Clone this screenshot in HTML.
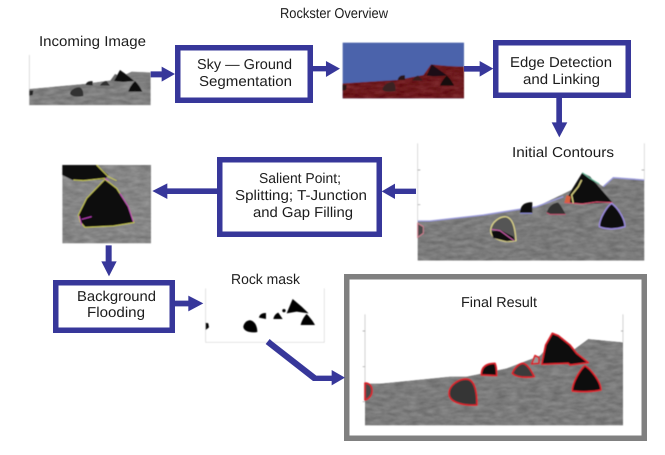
<!DOCTYPE html>
<html><head><meta charset="utf-8"><style>
html,body{margin:0;padding:0;background:#fff}
svg{display:block}
text{font-family:"Liberation Sans",sans-serif;font-size:14.3px;fill:#1c1c1c;text-rendering:geometricPrecision}
.b{fill:#fff;stroke:#37379a;stroke-width:5.5}
.a{fill:#37379a}
</style></head><body>
<svg width="665" height="455" viewBox="0 0 665 455" xmlns="http://www.w3.org/2000/svg">
<defs>
<filter id="t" x="0" y="0" width="100%" height="100%" color-interpolation-filters="sRGB">
<feTurbulence type="fractalNoise" baseFrequency=".03 .09" numOctaves="3" seed="4" result="n"/>
<feColorMatrix in="n" type="matrix" values="1 0 0 0 0 1 0 0 0 0 1 0 0 0 0 0 0 0 0 1" result="g"/>
<feComposite in="SourceGraphic" in2="g" operator="arithmetic" k1="0" k2="1" k3=".2" k4="-.1" result="c"/>
<feComposite in="c" in2="SourceAlpha" operator="in"/>
</filter>
<filter id="s" x="-5%" y="-5%" width="110%" height="110%"><feGaussianBlur stdDeviation="1.3"/></filter>
</defs>
<rect width="665" height="455" fill="#fff"/>

<!-- Incoming image -->
<g transform="scale(.3333)"><g filter="url(#s)">
<path d="M88 165V315H452" fill="none" stroke="#ccc" stroke-width="2"/>
<polygon points="88,267 250,252 340,240 395,215 452,217 452,315 88,315" fill="#7f7f7f" filter="url(#t)"/>
<polygon points="330,243 345,222 400,243" fill="#6a6a6a"/>
<polygon points="88,272 100,272 98,285 88,287" fill="#222"/>
<path d="M210 280C212 268 230 260 240 262C250 268 250 280 250 288C235 292 212 290 210 280Z" fill="#333"/>
<path d="M257 255C258 247 268 242 278 244V256Z" fill="#222"/>
<path d="M300 257C303 249 312 243 320 243L330 257Z" fill="#333"/>
<polygon points="342,243 360,210 385,228 403,243 370,246" fill="#111"/>
<path d="M385 275C388 262 398 250 405 243C415 252 423 265 427 275Z" fill="#111"/>
</g></g>

<!-- Sky/ground image -->
<g transform="translate(330,30) scale(.3333)"><g filter="url(#s)">
<rect x="38" y="38" width="364" height="167" fill="#4b63ab"/>
<polygon points="38,160 200,150 280,135 303,103 355,108 402,110 402,205 38,205" fill="#6e1a1e" filter="url(#t)"/>
<polygon points="38,165 50,165 48,180 38,182" fill="#2a1518"/>
<path d="M157 178C160 165 175 155 190 156C197 165 197 175 197 183C180 186 160 186 157 178Z" fill="#3a2224"/>
<path d="M203 150C205 140 212 135 225 136V150Z" fill="#2a1518"/>
<path d="M247 152C250 145 258 137 265 137L278 152Z" fill="#3a1a1c"/>
<polygon points="290,137 305,103 352,137 310,139" fill="#1e1012"/>
<path d="M330 167C335 155 342 145 350 137C360 145 368 158 372 167Z" fill="#120a0a"/>
</g></g>

<!-- Contour image -->
<g transform="translate(330,30) scale(.3333)"><g filter="url(#s)">
<path d="M263 340V573M943 340V450" stroke="#ccc" stroke-width="2" fill="none"/>
<path d="M263 420h8M263 524h8M943 420h-8" stroke="#999" stroke-width="2"/>
<polygon points="263,573 300,573 460,555 620,530 745,470 760,430 820,470 850,443 943,450 943,692 263,692" fill="#7b7b7b" filter="url(#t)"/>
<path d="M263,573 300,573 460,555 620,530 700,500M820,470 850,443 943,450" fill="none" stroke="#9c9cdc" stroke-width="4"/>
<polygon points="263,580 280,590 280,610 263,622" fill="#4a4a4a" stroke="#d08090" stroke-width="3"/>
<path d="M482 600C485 575 510 560 525 560C548 562 555 590 558 632C530 638 482 632 482 600Z" fill="#555" stroke="#d8d088" stroke-width="4"/>
<polygon points="484,605 510,600 550,620 555,632 530,634 490,624" fill="#0c0c0c"/>
<path d="M484 598 510 602 535 620 552 632" fill="none" stroke="#d060b0" stroke-width="3"/>
<path d="M570 550C570 530 580 516 607 517V550Z" fill="#111"/>
<path d="M570 550H607" stroke="#8f8fe0" stroke-width="3"/>
<path d="M650 548C655 530 670 518 685 518C695 530 702 543 707 553H660Z" fill="#333"/>
<path d="M650 548 660 553H707" fill="none" stroke="#c05070" stroke-width="3"/>
<polygon points="703,518 725,480 757,428 780,440 815,480 848,518 800,520 750,522" fill="#0c0c0c"/>
<path d="M703 518 757 522 800 516 848 518" fill="none" stroke="#d85070" stroke-width="3"/>
<path d="M757 428 780 445 808 462" fill="none" stroke="#70c0a0" stroke-width="3"/>
<path d="M730 520 725 495 745 470 755 450" fill="none" stroke="#d8d080" stroke-width="4"/>
<polygon points="703,518 710,495 722,500 720,518" fill="#d86040"/>
<path d="M808 590C808 565 832 528 845 520C862 532 885 565 885 590C860 598 830 600 808 590Z" fill="#0c0c0c" stroke="#9c8ce0" stroke-width="4"/>
</g></g>

<!-- Crop image -->
<g transform="translate(40,150) scale(.3333)"><g filter="url(#s)">
<rect x="67" y="45" width="266" height="235" fill="#858585" filter="url(#t)"/>
<polygon points="67,45 170,45 205,75 195,88 130,92 97,90 67,75" fill="#0c0c0c"/>
<path d="M170 45 205 80 230 92" fill="none" stroke="#c8c850" stroke-width="3"/>
<path d="M100 90 130 92 195 85" fill="none" stroke="#c8c850" stroke-width="3"/>
<polygon points="115,195 140,145 195,88 230,115 265,170 282,218 220,228 135,232 120,215" fill="#0c0c0c" stroke="#c8c850" stroke-width="3"/>
<path d="M240 130 265 170 280 215M118 198 125 225M125 208 155 200M195 85 205 92" fill="none" stroke="#c040c0" stroke-width="3"/>
</g></g>

<!-- Rock mask -->
<g transform="translate(40,150) scale(.3333)"><g filter="url(#s)">
<path d="M497 415V577H853V415" fill="none" stroke="#d5d5d5" stroke-width="2"/>
<polygon points="497,518 505,520 507,532 497,540" fill="#000"/>
<path d="M610 530C612 518 622 510 632 511C647 515 652 532 652 546C635 550 610 545 610 530Z" fill="#000"/>
<path d="M657 503C658 495 665 488 678 489V507Z" fill="#000"/>
<path d="M700 507C702 498 708 490 715 488L728 507Z" fill="#000"/>
<circle cx="732" cy="482" r="5" fill="#000"/>
<polygon points="740,490 758,447 785,470 806,490 770,485" fill="#000"/>
<path d="M782 525C785 512 792 500 800 492C810 502 820 515 825 525Z" fill="#000"/>
</g></g>

<!-- Boxes -->
<rect class="b" x="177.750" y="47.750" width="132.500" height="52.500"/>
<rect class="b" x="495.750" y="42.750" width="132.500" height="52.500"/>
<rect class="b" x="219.750" y="159.750" width="159.500" height="74.500"/>
<rect class="b" x="55.750" y="282.750" width="116.500" height="47.500"/>
<rect x="346.750" y="276.750" width="297.500" height="161.500" fill="#fff" stroke="#808080" stroke-width="5.500"/>

<!-- Final image -->
<g transform="translate(340,265) scale(.3333)"><g filter="url(#s)">
<path d="M75 148V356M849 148V232" stroke="#bbb" stroke-width="2" fill="none"/>
<path d="M68 198h7M68 305h7M68 410h7M849 198h-6" stroke="#999" stroke-width="2"/>
<polygon points="75,356 120,356 330,335 380,335 500,310 600,272 620,250 700,255 745,222 849,232 849,481 75,481" fill="#7b7b7b" filter="url(#t)"/>
<g stroke="#d8232a" stroke-width="5" stroke-linejoin="round">
<path d="M75 354C90 355 97 365 96 380C95 392 85 403 75 405Z" fill="#4a4a4a"/>
<path d="M327 385C327 362 355 342 378 342C398 342 411 365 411 420C385 422 327 418 327 385Z" fill="#353535"/>
<path d="M424 330C424 305 440 295 465 295C470 305 470 320 470 332Z" fill="#111"/>
<path d="M517 325C525 305 540 295 550 295C565 300 575 320 583 335C560 338 530 338 517 325Z" fill="#3a3a3a"/>
<polygon points="575,297 585,272 597,278 597,295" fill="#999"/>
<polygon points="605,298 617,240 637,205 655,212 690,240 710,265 745,293 690,300 685,295" fill="#0f0f0f"/>
<path d="M697 378C697 352 722 312 735 302C752 312 783 350 783 375C760 381 720 381 697 378Z" fill="#0c0c0c"/>
</g>
</g></g>

<!-- Arrows -->
<g class="a" transform="scale(.3333)">
<polygon points="452,214 485,214 485,200 525,222 485,245 485,232 452,232"/>
<polygon points="938,198 978,198 978,183 1020,206 978,231 978,214 938,214"/>
</g>
<g class="a" transform="translate(330,30) scale(.3333)">
<polygon points="402,108 449,108 449,93 490,116 449,140 449,125 402,125"/>
<polygon points="679,204 696,204 696,277 712,277 688,322 665,277 679,277"/>
<polygon points="258,476 195,476 195,461 155,484 195,507 195,492 258,492"/>
</g>
<g class="a" transform="translate(40,150) scale(.3333)">
<polygon points="532,115 382,115 382,100 337,123 382,147 382,132 532,132"/>
<polygon points="197,286 215,286 215,334 230,334 207,379 184,334 197,334"/>
<polygon points="405,452 445,452 445,437 490,460 445,484 445,469 405,469"/>
</g>
<g class="a" transform="translate(255,330) scale(.3333)">
<polygon points="44,27 52,34 184,137 230,137 230,120 270,143 230,166 230,153 174,153 32,42"/>
</g>

<!-- Text -->
<text x="280" y="18" textLength="108" lengthAdjust="spacingAndGlyphs">Rockster Overview</text>
<text x="39" y="46" textLength="107" lengthAdjust="spacingAndGlyphs">Incoming Image</text>
<text x="197" y="69" textLength="95" lengthAdjust="spacingAndGlyphs">Sky — Ground</text>
<text x="199" y="86" textLength="93" lengthAdjust="spacingAndGlyphs">Segmentation</text>
<text x="510" y="67" textLength="102" lengthAdjust="spacingAndGlyphs">Edge Detection</text>
<text x="523" y="84" textLength="77" lengthAdjust="spacingAndGlyphs">and Linking</text>
<text x="512" y="157" textLength="102" lengthAdjust="spacingAndGlyphs">Initial Contours</text>
<text x="259" y="183" textLength="82" lengthAdjust="spacingAndGlyphs">Salient Point;</text>
<text x="235" y="200" textLength="132" lengthAdjust="spacingAndGlyphs">Splitting; T-Junction</text>
<text x="253" y="217" textLength="100" lengthAdjust="spacingAndGlyphs">and Gap Filling</text>
<text x="77" y="301" textLength="79" lengthAdjust="spacingAndGlyphs">Background</text>
<text x="87" y="317" textLength="58" lengthAdjust="spacingAndGlyphs">Flooding</text>
<text x="231" y="284" textLength="69" lengthAdjust="spacingAndGlyphs">Rock mask</text>
<text x="461" y="307" textLength="76" lengthAdjust="spacingAndGlyphs">Final Result</text>
</svg>
</body></html>
